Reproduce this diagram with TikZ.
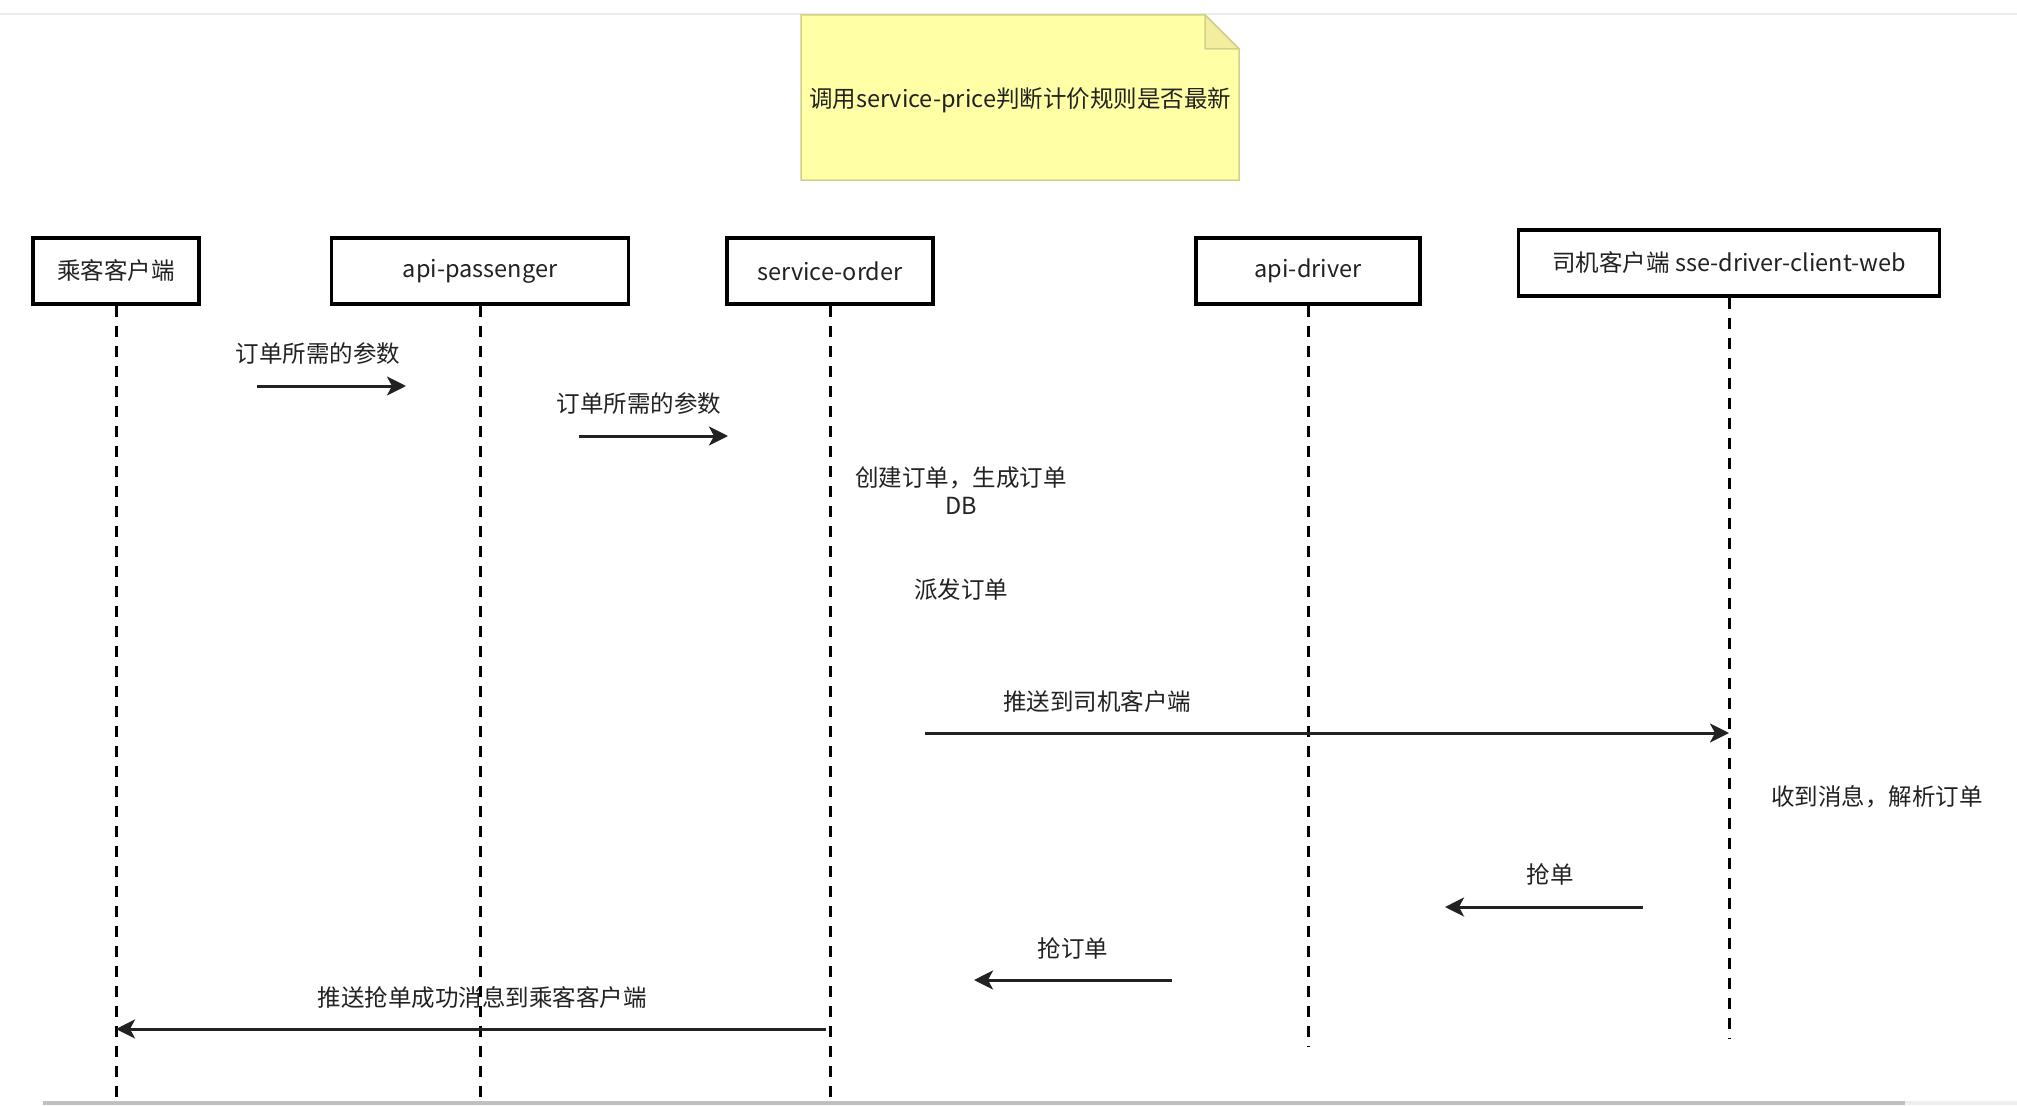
\documentclass[tikz,border=0pt]{standalone}
\usepackage{fontspec}
\setmainfont{Noto Sans CJK SC}
\usetikzlibrary{arrows.meta}
\definecolor{txt}{HTML}{222222}
\definecolor{notefill}{HTML}{FFFFA6}
\definecolor{notedraw}{HTML}{D2D08A}
\definecolor{foldfill}{HTML}{F2EE9E}
\tikzset{
  actor/.style={draw=black, line width=3.5pt, fill=white, inner sep=0pt, minimum height=66pt, font=\fontsize{23.5}{28}\selectfont, text=txt},
  life/.style={line width=3pt, dash pattern=on 11pt off 9pt, black},
  msg/.style={line width=3pt, draw=txt, -{Stealth[length=19pt,width=19pt,inset=5pt]}},
  lbl/.style={font=\fontsize{23.5}{28}\selectfont, text=txt, align=center, inner sep=0pt},
}
\begin{document}
\begin{tikzpicture}[x=1pt,y=-1pt]
\useasboundingbox (0,0) rectangle (2017,1105);
\fill[white] (0,0) rectangle (2017,1105);
% frame lines
\draw[line width=1.5pt, color={rgb,255:red,236;green,236;blue,236}] (0,14) -- (2017,14);
\draw[line width=4pt, color={rgb,255:red,192;green,192;blue,192}] (43,1103) -- (1905,1103);
\draw[line width=4pt, color={rgb,255:red,238;green,238;blue,238}] (1905,1103) -- (2017,1103);
% note
\filldraw[fill=notefill, draw=notedraw, line width=1.5pt] (801,15) -- (1205,15) -- (1239,49) -- (1239,180) -- (801,180) -- cycle;
\filldraw[fill=foldfill, draw=notedraw, line width=1.5pt] (1205,15) -- (1205,49) -- (1239,49) -- cycle;
\node[lbl] (note) at (1020,100) {调用service-price判断计价规则是否最新};
% actors
\node[actor, minimum width=166pt] (a1) at (116,271) {乘客客户端};
\node[actor, minimum width=297pt] (a2) at (480,271) {api-passenger};
\node[actor, minimum width=206pt] (a3) at (830,271) {service-order};
\node[actor, minimum width=224pt] (a4) at (1308,271) {api-driver};
\node[actor, minimum width=421pt] (a5) at (1729,263) {司机客户端 sse-driver-client-web};
% lifeline ends
\coordinate (e1) at (116,1105);
\coordinate (e2) at (480,1105);
\coordinate (e3) at (830,1105);
\coordinate (e4) at (1308,1046);
\coordinate (e5) at (1729,1039);
\draw[life] (a1.south) -- (e1);
\draw[life] (a2.south) -- (e2);
\draw[life] (a3.south) -- (e3);
\draw[life] (a4.south) -- (e4);
\draw[life] (a5.south) -- (e5);
% messages
\node[lbl] (m1) at (318,354) {订单所需的参数};
\coordinate (m1s) at (257,386); \coordinate (m1e) at (406,386);
\draw[msg] (m1s) -- (m1e);
\node[lbl] (m2) at (639,404) {订单所需的参数};
\coordinate (m2s) at (579,436); \coordinate (m2e) at (728,436);
\draw[msg] (m2s) -- (m2e);
\node[lbl] (c1) at (961,491) {创建订单，生成订单\\DB};
\node[lbl] (c2) at (961,590) {派发订单};
\node[lbl] (m3) at (1097,702) {推送到司机客户端};
\coordinate (m3s) at (925,733); \coordinate (m3e) at (1729,733);
\draw[msg] (m3s) -- (m3e);
\node[lbl] (c3) at (1877,797) {收到消息，解析订单};
\node[lbl] (m4) at (1550,874) {抢单};
\coordinate (m4s) at (1643,907); \coordinate (m4e) at (1445,907);
\draw[msg] (m4s) -- (m4e);
\node[lbl] (m5) at (1073,948) {抢订单};
\coordinate (m5s) at (1172,980); \coordinate (m5e) at (974,980);
\draw[msg] (m5s) -- (m5e);
\node[lbl] (m6) at (482,998) {推送抢单成功消息到乘客客户端};
\coordinate (m6s) at (826,1029);
\draw[msg] (m6s) -- (e1 |- m6s);
\end{tikzpicture}
\end{document}
